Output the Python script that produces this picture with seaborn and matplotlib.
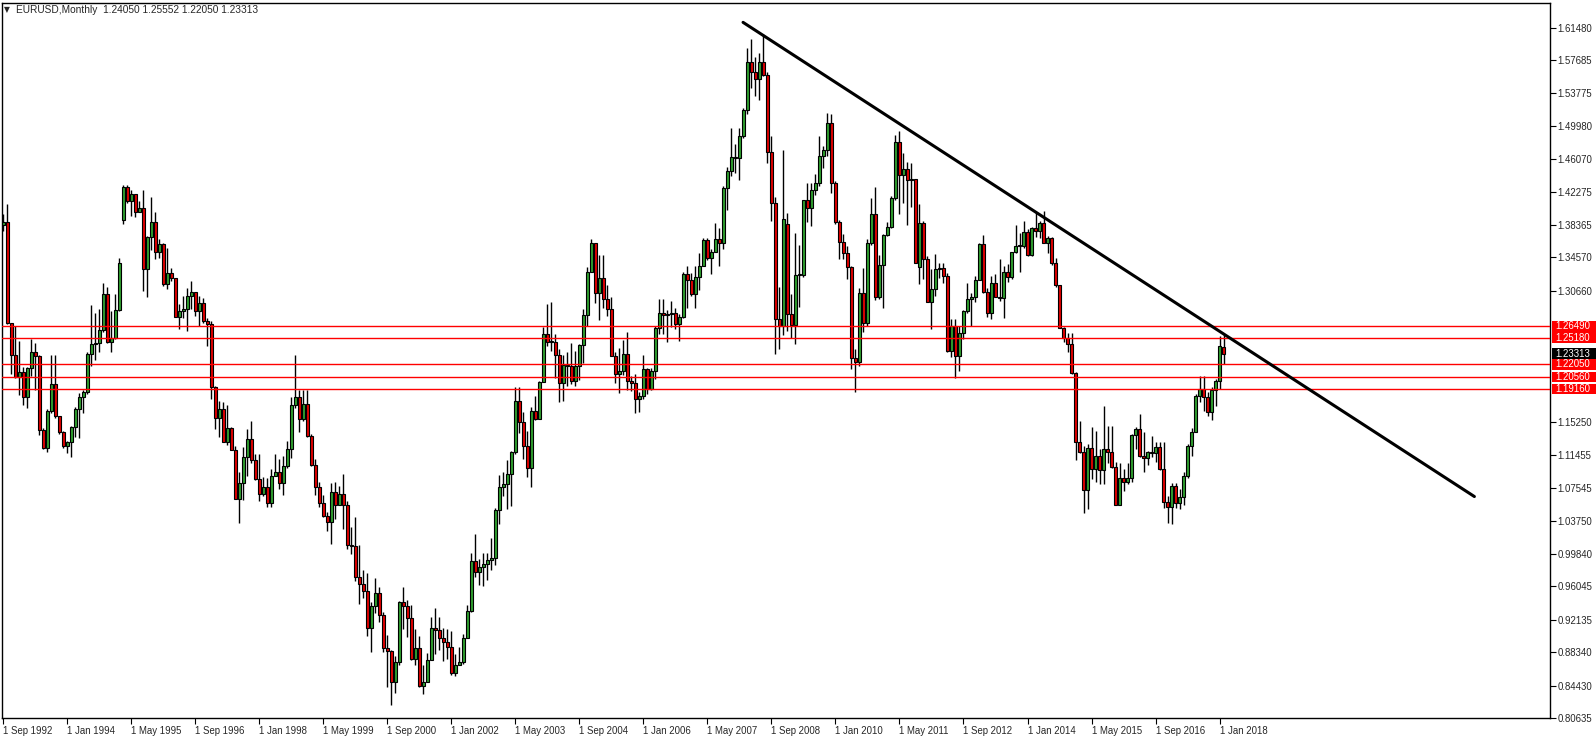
import numpy as np
import pandas as pd
import seaborn as sns
import matplotlib
matplotlib.use("Agg")
from matplotlib import pyplot as plt
from matplotlib import transforms
from matplotlib.patches import Rectangle

# monthly EURUSD candles, Sep 1992 .. Feb 2018
closes = [
    1.3870, 1.2687, 1.2313, 1.2052,
    1.2118, 1.1818, 1.2157, 1.2344, 1.2297, 1.1440, 1.1222, 1.1659, 1.1974, 1.1596, 1.1409, 1.1246,
    1.1293, 1.1468, 1.1682, 1.1818, 1.1877, 1.2325, 1.2441, 1.2453, 1.2609, 1.3025, 1.2469, 1.2519,
    1.2838, 1.3395, 1.4283, 1.4116, 1.4205, 1.3991, 1.4038, 1.3325, 1.3699, 1.3874, 1.3520, 1.3610,
    1.3150, 1.3278, 1.3220, 1.2765, 1.2831, 1.2850, 1.3000, 1.3050, 1.2830, 1.2920, 1.2710, 1.2675,
    1.1935, 1.1573, 1.1682, 1.1300, 1.1456, 1.1207, 1.0630, 1.0814, 1.1117, 1.1331, 1.1090, 1.0864,
    1.0681, 1.0767, 1.0580, 1.0895, 1.0950, 1.0814, 1.1012, 1.1215, 1.1728, 1.1818, 1.1565, 1.1740,
    1.1370, 1.1032, 1.0767, 1.0584, 1.0424, 1.0358, 1.0708, 1.0560, 1.0689, 1.0553, 1.0085, 1.0078,
    0.9716, 0.9638, 0.9548, 0.9120, 0.9377, 0.9533, 0.9268, 0.8886, 0.8851, 0.8489, 0.8722, 0.9423,
    0.9377, 0.9236, 0.8754, 0.8886, 0.8442, 0.8489, 0.8742, 0.9112, 0.9092, 0.9003, 0.8956, 0.8898,
    0.8594, 0.8684, 0.8715, 0.9003, 0.9314, 0.9898, 0.9774, 0.9832, 0.9871, 0.9910, 0.9937, 1.0494,
    1.0767, 1.0806, 1.0923, 1.1176, 1.1779, 1.1526, 1.1250, 1.0990, 1.1660, 1.1570, 1.1994, 1.2558,
    1.2461, 1.2468, 1.2313, 1.1982, 1.2200, 1.2180, 1.2013, 1.2188, 1.2433, 1.2784, 1.3290, 1.3629,
    1.3045, 1.3220, 1.2967, 1.2858, 1.2305, 1.2091, 1.2122, 1.2332, 1.2013, 1.1982, 1.1799, 1.1838,
    1.2149, 1.1915, 1.2122, 1.2628, 1.2811, 1.2780, 1.2792, 1.2803, 1.2683, 1.2765, 1.3259, 1.3193,
    1.3025, 1.3232, 1.3356, 1.3660, 1.3454, 1.3524, 1.3668, 1.3621, 1.4271, 1.4474, 1.4634, 1.4622,
    1.4875, 1.5187, 1.5751, 1.5623, 1.5545, 1.5751, 1.5588, 1.4688, 1.4096, 1.2733, 1.2655, 1.3902,
    1.2792, 1.2663, 1.3247, 1.3247, 1.4124, 1.4038, 1.4252, 1.4330, 1.4649, 1.4719, 1.5031, 1.4330,
    1.3870, 1.3637, 1.3512, 1.3349, 1.2285, 1.2227, 1.3037, 1.2687, 1.3621, 1.3968, 1.2998, 1.3364,
    1.3715, 1.3816, 1.4155, 1.4809, 1.4427, 1.4493, 1.4369, 1.4377, 1.3395, 1.3863, 1.3442, 1.2936,
    1.3084, 1.3325, 1.3337, 1.3240, 1.2363, 1.2655, 1.2297, 1.2577, 1.2831, 1.2967, 1.2998, 1.3193,
    1.3610, 1.3053, 1.2811, 1.3162, 1.2998, 1.2986, 1.3290, 1.3232, 1.3524, 1.3590, 1.3590, 1.3753,
    1.3481, 1.3804, 1.3765, 1.3863, 1.3629, 1.3688, 1.3390, 1.3130, 1.2636, 1.2519, 1.2441, 1.2102,
    1.1292, 1.1183, 1.0728, 1.1222, 1.0981, 1.1129, 1.0973, 1.1215, 1.1176, 1.1000, 1.0560, 1.0872,
    1.0833, 1.0872, 1.1378, 1.1448, 1.1129, 1.1105, 1.1176, 1.1168, 1.1234, 1.0981, 1.0591, 1.0533,
    1.0786, 1.0584, 1.0650, 1.0895, 1.1254, 1.1417, 1.1838, 1.1915, 1.1818, 1.1643, 1.1908, 1.2013,
    1.2414, 1.23313,
]
highs = [
    1.3960, 1.4080, 1.2694, 1.2655,
    1.2480, 1.2170, 1.2170, 1.2500, 1.2460, 1.2320, 1.1460, 1.1680, 1.2310, 1.2310, 1.1600, 1.1420,
    1.1310, 1.1480, 1.1700, 1.1870, 1.1900, 1.2350, 1.2900, 1.2810, 1.2850, 1.3160, 1.3110, 1.2830,
    1.3030, 1.3450, 1.4310, 1.4310, 1.4250, 1.4135, 1.4120, 1.4252, 1.3710, 1.4162, 1.3990, 1.3668,
    1.3630, 1.3570, 1.3337, 1.3220, 1.2910, 1.3000, 1.3100, 1.3180, 1.3050, 1.3000, 1.2980, 1.2750,
    1.2714, 1.1950, 1.1780, 1.1760, 1.1730, 1.1470, 1.1253, 1.0940, 1.1240, 1.1450, 1.1546, 1.1150,
    1.1150, 1.0880, 1.0870, 1.0975, 1.1156, 1.1100, 1.1130, 1.1310, 1.1818, 1.2313, 1.1910, 1.1910,
    1.1910, 1.1390, 1.1100, 1.0830, 1.0677, 1.0475, 1.0817, 1.0825, 1.0786, 1.0923, 1.0600, 1.0300,
    1.0420, 1.0093, 0.9793, 0.9760, 0.9420, 0.9700, 0.9600, 0.9310, 0.9040, 0.8860, 0.8790, 0.9430,
    0.9600, 0.9443, 0.9392, 0.9104, 0.9020, 0.8690, 0.8830, 0.9250, 0.9350, 0.9250, 0.9120, 0.9100,
    0.9080, 0.8810, 0.8890, 0.9050, 0.9390, 1.0000, 1.0222, 0.9930, 1.0000, 0.9990, 1.0170, 1.0520,
    1.0910, 1.0940, 1.1080, 1.1190, 1.1935, 1.1935, 1.1650, 1.1420, 1.1700, 1.1840, 1.2010, 1.2648,
    1.2910, 1.2930, 1.2560, 1.2390, 1.2320, 1.2350, 1.2460, 1.2360, 1.2440, 1.2850, 1.3340, 1.3668,
    1.3580, 1.3490, 1.3490, 1.3130, 1.2990, 1.2355, 1.2400, 1.2490, 1.2585, 1.2070, 1.2090, 1.1880,
    1.2320, 1.2160, 1.2160, 1.2650, 1.2975, 1.2975, 1.2840, 1.2950, 1.2870, 1.2790, 1.3290, 1.3360,
    1.3280, 1.3360, 1.3510, 1.3690, 1.3690, 1.3560, 1.3855, 1.3800, 1.4290, 1.4520, 1.4972, 1.4780,
    1.4970, 1.5210, 1.5907, 1.6012, 1.5810, 1.5850, 1.6074, 1.5630, 1.4880, 1.4170, 1.3115, 1.4720,
    1.3980, 1.3025, 1.3738, 1.3600, 1.4135, 1.4330, 1.4330, 1.4430, 1.4875, 1.4766, 1.5148, 1.5140,
    1.4350, 1.3894, 1.3726, 1.3590, 1.3356, 1.2383, 1.3103, 1.3337, 1.3670, 1.4155, 1.4283, 1.3490,
    1.3726, 1.3870, 1.4174, 1.4894, 1.4933, 1.4680, 1.4570, 1.4560, 1.4380, 1.4080, 1.3880, 1.3473,
    1.3325, 1.3493, 1.3388, 1.3396, 1.3279, 1.2741, 1.2733, 1.2655, 1.2842, 1.3154, 1.3037, 1.3240,
    1.3629, 1.3715, 1.3104, 1.3240, 1.3259, 1.3434, 1.3357, 1.3376, 1.3524, 1.3831, 1.3746, 1.3882,
    1.3785, 1.3816, 1.3987, 1.3882, 1.4000, 1.3707, 1.3700, 1.3445, 1.3130, 1.2640, 1.2570, 1.2570,
    1.2118, 1.1546, 1.1254, 1.1273, 1.1470, 1.1429, 1.1215, 1.1713, 1.1487, 1.1487, 1.1059, 1.1051,
    1.0981, 1.1051, 1.1390, 1.1468, 1.1624, 1.1417, 1.1195, 1.1363, 1.1290, 1.1292, 1.1300, 1.0669,
    1.0817, 1.0817, 1.0747, 1.0942, 1.1273, 1.1456, 1.1857, 1.2064, 1.2064, 1.1884, 1.1935, 1.2032,
    1.2538, 1.25552,
]
lows = [
    1.3770, 1.2675, 1.2090, 1.2040,
    1.1846, 1.1730, 1.1690, 1.2070, 1.1910, 1.1380, 1.1210, 1.1180, 1.1640, 1.1580, 1.1390, 1.1230,
    1.1170, 1.1120, 1.1350, 1.1340, 1.1640, 1.1860, 1.2190, 1.2260, 1.2350, 1.2580, 1.2450, 1.2350,
    1.2500, 1.2830, 1.3850, 1.4100, 1.3940, 1.3930, 1.4020, 1.3064, 1.2998, 1.3540, 1.3434, 1.3454,
    1.3123, 1.3084, 1.3181, 1.2755, 1.2617, 1.2750, 1.2600, 1.2850, 1.2770, 1.2650, 1.2690, 1.2420,
    1.1800, 1.1450, 1.1360, 1.1290, 1.1260, 1.1200, 1.0625, 1.0350, 1.0620, 1.0900, 1.1050, 1.0856,
    1.0600, 1.0660, 1.0530, 1.0530, 1.0895, 1.0750, 1.0680, 1.0993, 1.1105, 1.1690, 1.1409, 1.1545,
    1.1350, 1.1020, 1.0670, 1.0535, 1.0416, 1.0250, 1.0105, 1.0397, 1.0553, 1.0280, 1.0039, 0.9980,
    0.9665, 0.9404, 0.9470, 0.9026, 0.8840, 0.9290, 0.9190, 0.8840, 0.8430, 0.8216, 0.8360, 0.8690,
    0.9104, 0.9015, 0.8740, 0.8684, 0.8430, 0.8340, 0.8490, 0.8740, 0.8810, 0.8860, 0.8730, 0.8760,
    0.8570, 0.8560, 0.8680, 0.8700, 0.9000, 0.9300, 0.9720, 0.9620, 0.9610, 0.9680, 0.9800, 0.9860,
    1.0330, 1.0660, 1.0510, 1.0550, 1.1160, 1.1400, 1.1100, 1.0880, 1.0770, 1.1550, 1.1565, 1.1994,
    1.2420, 1.2360, 1.2050, 1.1760, 1.1770, 1.1950, 1.1970, 1.1950, 1.2020, 1.2220, 1.2650, 1.3300,
    1.2920, 1.2730, 1.2860, 1.2770, 1.2300, 1.1990, 1.1870, 1.2080, 1.1900, 1.1890, 1.1635, 1.1650,
    1.1800, 1.1860, 1.1910, 1.2030, 1.2560, 1.2560, 1.2470, 1.2640, 1.2620, 1.2480, 1.2750, 1.2870,
    1.3010, 1.2870, 1.3070, 1.3360, 1.3430, 1.3260, 1.3520, 1.3356, 1.3550, 1.4010, 1.4410, 1.4440,
    1.4360, 1.4860, 1.5140, 1.5440, 1.5350, 1.5300, 1.5580, 1.4564, 1.3882, 1.2324, 1.2383, 1.2547,
    1.2597, 1.2508, 1.2441, 1.2880, 1.3230, 1.3870, 1.3830, 1.4193, 1.4290, 1.4505, 1.4640, 1.4213,
    1.3843, 1.3442, 1.3442, 1.3210, 1.2149, 1.1877, 1.2188, 1.2586, 1.2655, 1.3598, 1.2959, 1.2975,
    1.2870, 1.3707, 1.3804, 1.4135, 1.3970, 1.4096, 1.3832, 1.4050, 1.3387, 1.3142, 1.3208, 1.2936,
    1.2624, 1.3006, 1.3220, 1.3162, 1.2355, 1.2286, 1.2040, 1.2130, 1.2500, 1.2811, 1.2655, 1.2936,
    1.3193, 1.3045, 1.2764, 1.2741, 1.2998, 1.2948, 1.2753, 1.3170, 1.3201, 1.3512, 1.3287, 1.3571,
    1.3473, 1.3473, 1.3699, 1.3687, 1.3621, 1.3504, 1.3370, 1.3105, 1.2625, 1.2469, 1.2352, 1.2095,
    1.1090, 1.1168, 1.0467, 1.0514, 1.0864, 1.0833, 1.0806, 1.0806, 1.1051, 1.0989, 1.0553, 1.0560,
    1.0716, 1.0806, 1.0833, 1.1215, 1.1117, 1.0942, 1.1028, 1.1117, 1.1059, 1.0973, 1.0521, 1.0350,
    1.0338, 1.0521, 1.0506, 1.0560, 1.0872, 1.1137, 1.1409, 1.1760, 1.1662, 1.1604, 1.1557, 1.1713,
    1.1916, 1.22050,
]
first_open = 1.3840
open_gaps = {30: 1.3890, 196: 1.3843, 229: 1.3350, 305: 1.24050}

tick_labels = ["1 Sep 1992", "1 Jan 1994", "1 May 1995", "1 Sep 1996", "1 Jan 1998",
               "1 May 1999", "1 Sep 2000", "1 Jan 2002", "1 May 2003", "1 Sep 2004",
               "1 Jan 2006", "1 May 2007", "1 Sep 2008", "1 Jan 2010", "1 May 2011",
               "1 Sep 2012", "1 Jan 2014", "1 May 2015", "1 Sep 2016", "1 Jan 2018"]
price_ticks = [1.61480, 1.57685, 1.53775, 1.49980, 1.46070, 1.42275, 1.38365, 1.34570,
               1.30660, 1.15250, 1.11455, 1.07545, 1.03750, 0.99840, 0.96045, 0.92135,
               0.88340, 0.84430, 0.80635]
levels = [1.26490, 1.25180, 1.22050, 1.20560, 1.19160]
last_price = 1.23313
# resistance line drawn by hand on the chart: (month index, price)
trend_x = [184.9, 367.7]
trend_y = [1.6210, 1.0657]
header = "EURUSD,Monthly  1.24050 1.25552 1.22050 1.23313"

df = pd.DataFrame({"close": closes, "high": highs, "low": lows})
df["open"] = [first_open] + closes[:-1]
for k, v in open_gaps.items():
    df.loc[k, "open"] = v
df["high"] = df[["high", "open", "close"]].max(axis=1)
df["low"] = df[["low", "open", "close"]].min(axis=1)
df["x"] = np.arange(len(df))

sns.set_style("white")
plt.rcParams["font.family"] = ["Liberation Sans", "DejaVu Sans"]
FS = 6.9

W, H = 1596, 744
fig = plt.figure(figsize=(W / 100, H / 100), dpi=100)
ax = fig.add_axes([2 / W, 1 - 718 / H, (1550 - 2) / W, (718 - 2.7) / H])

up = df["close"] >= df["open"]
ax.vlines(df["x"], df["low"], df["high"], color="black", lw=1.0, zorder=2)
body = (df["close"] - df["open"]).abs().clip(lower=0.0012)
ax.bar(df["x"], body, bottom=df[["open", "close"]].min(axis=1), width=0.62,
       color=np.where(up, "#2f9e2f", "#e00000"), edgecolor="black", linewidth=0.8, zorder=3)

for lv in levels:
    ax.axhline(lv, color="#ff0000", lw=1.0, zorder=4)

sns.lineplot(x=trend_x, y=trend_y, color="black", lw=2.2, ax=ax, zorder=5)

ax.set_xlim(-0.33, 386.6)
ax.set_ylim(0.80837, 1.64401)

ax.set_xticks(np.arange(len(tick_labels)) * 16)
ax.set_xticklabels(tick_labels, fontsize=FS)
shift = transforms.ScaledTranslation(2 / 100, 0, fig.dpi_scale_trans)
for lab in ax.get_xticklabels():
    lab.set_horizontalalignment("left")
    lab.set_transform(lab.get_transform() + shift)

ax.yaxis.tick_right()
ax.set_yticks(price_ticks)
ax.set_yticklabels([f"{p:.5f}" for p in price_ticks], fontsize=FS)
ax.tick_params(axis="both", direction="out", length=4, width=0.8, color="black", pad=1.5,
               bottom=True, right=True, left=False)
for s in ax.spines.values():
    s.set_color("black")
    s.set_linewidth(1.0)
ax.set_xlabel("")
ax.set_ylabel("")

# price tags on the right scale: fixed-height boxes so neighbours do not overlap
blend = transforms.blended_transform_factory(ax.transAxes, ax.transData)
box_w = 44 / 1548
box_h = 10.5 / 856
tags = [(last_price, "black")] + [(lv, "#ff0000") for lv in levels]
for k, (p, fc) in enumerate(tags):
    ax.add_patch(Rectangle((1.0015, p - box_h / 2), box_w, box_h, transform=blend,
                           fc=fc, ec="none", clip_on=False, zorder=6 + k))
    ax.text(1.0035, p, f"{p:.5f}", transform=blend, fontsize=FS, color="white",
            va="center", ha="left", clip_on=False, zorder=6 + k)

fig.text(4 / W, 1 - 10 / H, "\u25bc", fontsize=5.5, va="center", ha="left",
         family=["DejaVu Sans"])
fig.text(16 / W, 1 - 10 / H, header, fontsize=7.3, va="center", ha="left")

fig.savefig("out.png", dpi=100)
